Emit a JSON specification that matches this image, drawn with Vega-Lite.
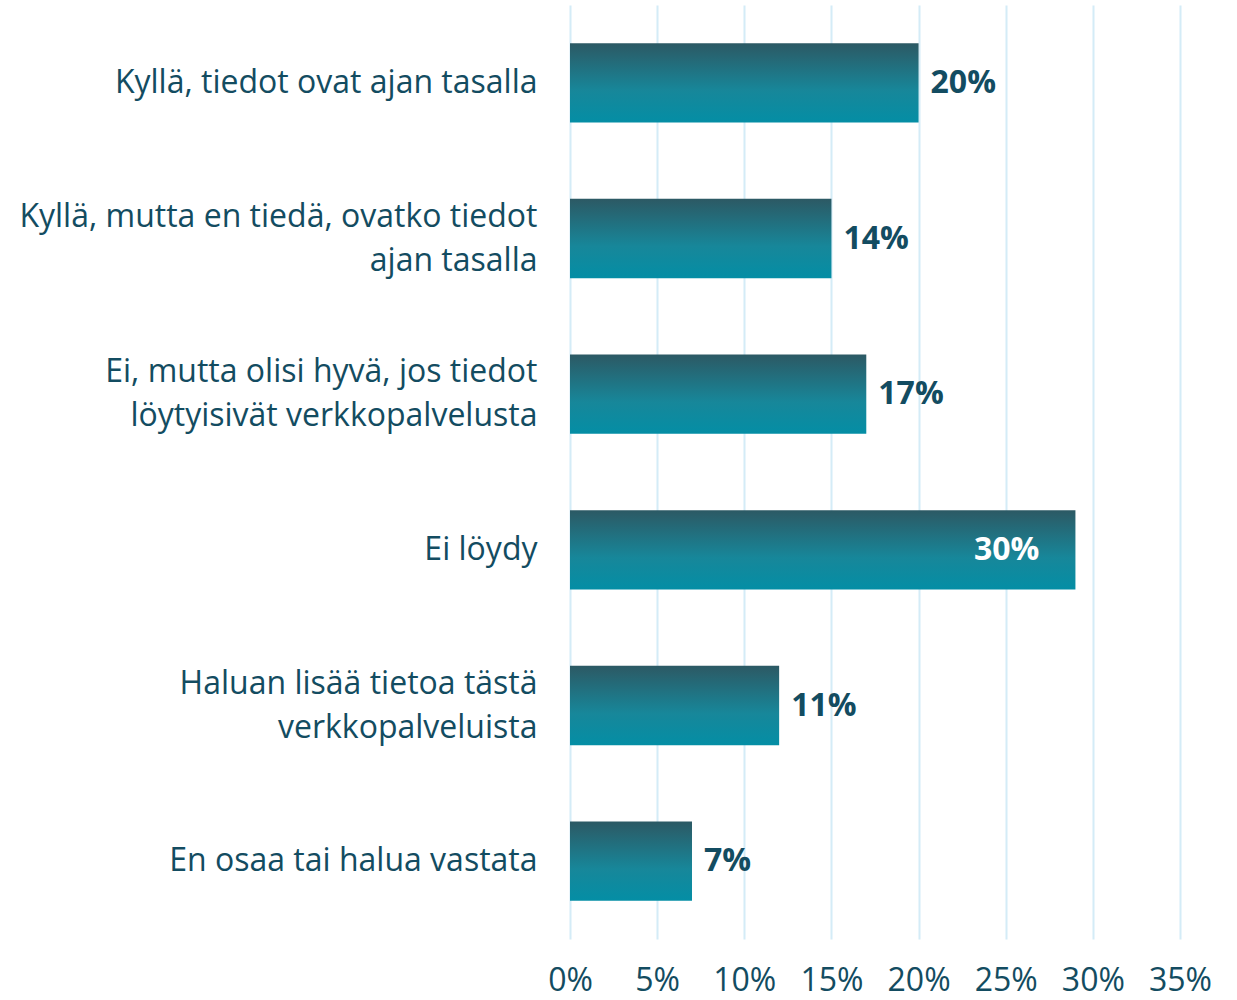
{
  "$schema": "https://vega.github.io/schema/vega-lite/v6.json",
  "width": 610,
  "height": 934,
  "autosize": "none",
  "padding": {"left": 570, "top": 5, "right": 57, "bottom": 61},
  "background": "white",
  "config": {"view": {"stroke": null}, "font": "Open Sans"},
  "data": {
    "values": [
      {"vastaus": "Kyllä, tiedot ovat ajan tasalla", "osuus": 0.20, "teksti": "20%"},
      {"vastaus": "Kyllä, mutta en tiedä, ovatko tiedot|ajan tasalla", "osuus": 0.15, "teksti": "14%"},
      {"vastaus": "Ei, mutta olisi hyvä, jos tiedot|löytyisivät verkkopalvelusta", "osuus": 0.17, "teksti": "17%"},
      {"vastaus": "Ei löydy", "osuus": 0.29, "teksti": "30%"},
      {"vastaus": "Haluan lisää tietoa tästä|verkkopalveluista", "osuus": 0.12, "teksti": "11%"},
      {"vastaus": "En osaa tai halua vastata", "osuus": 0.07, "teksti": "7%"}
    ]
  },
  "encoding": {
    "y": {
      "field": "vastaus",
      "type": "nominal",
      "sort": null,
      "scale": {"paddingInner": 0.49, "paddingOuter": 0.245},
      "axis": {
        "title": null,
        "domain": false,
        "ticks": false,
        "grid": false,
        "labelFont": "Open Sans",
        "labelFontSize": 32,
        "labelColor": "#134c61",
        "labelPadding": 33,
        "labelLineHeight": 44,
        "labelLimit": 0,
        "labelAlign": "right",
        "labelOffset": {"condition": {"test": "indexof(datum.value, '|') >= 0", "value": -22}, "value": 0},
        "labelExpr": "split(datum.label, '|')"
      }
    },
    "x": {
      "field": "osuus",
      "type": "quantitative",
      "scale": {"domain": [0, 0.35], "nice": false},
      "axis": {
        "title": null,
        "values": [0, 0.05, 0.1, 0.15, 0.2, 0.25, 0.3, 0.35],
        "format": ".0%",
        "domain": false,
        "ticks": false,
        "grid": true,
        "gridColor": "#d4ecf7",
        "gridWidth": 2,
        "labelFont": "Open Sans",
        "labelFontSize": 32,
        "labelColor": "#134c61",
        "labelPadding": 26,
        "labelFlush": false
      }
    }
  },
  "layer": [
    {
      "mark": {
        "type": "bar",
        "fill": {
          "gradient": "linear",
          "x1": 0, "y1": 0, "x2": 0, "y2": 1,
          "stops": [
            {"offset": 0, "color": "#2c5964"},
            {"offset": 0.6, "color": "#17879a"},
            {"offset": 1, "color": "#048ea5"}
          ]
        }
      }
    },
    {
      "transform": [{"filter": "datum.osuus < 0.25"}],
      "mark": {"type": "text", "align": "left", "dx": 12, "fontSize": 32, "fontWeight": "bold", "color": "#134c61", "font": "Open Sans"},
      "encoding": {"text": {"field": "teksti"}}
    },
    {
      "transform": [{"filter": "datum.osuus >= 0.25"}],
      "mark": {"type": "text", "align": "right", "dx": -36, "fontSize": 32, "fontWeight": "bold", "color": "white", "font": "Open Sans"},
      "encoding": {"text": {"field": "teksti"}}
    }
  ]
}
